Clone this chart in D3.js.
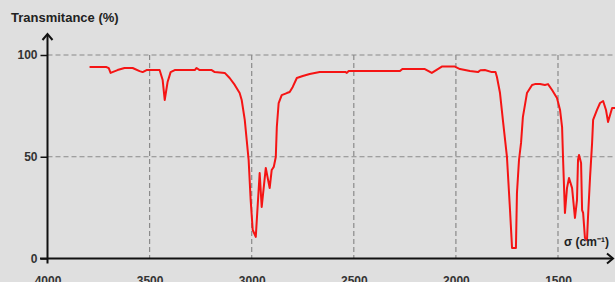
<!DOCTYPE html>
<html>
<head>
<meta charset="utf-8">
<script src="https://cdn.jsdelivr.net/npm/d3@7"></script>
<style>
  html, body { margin: 0; padding: 0; background: #dfdfdf; }
  svg { display: block; }
  text { font-family: "Liberation Sans", Arial, sans-serif; font-weight: bold; }
</style>
</head>
<body>
<svg id="chart" width="615" height="282"></svg>
<script>
// ---- data ----
const wavenumber = [3794,3711,3700,3691,3657,3623,3583,3549,3534,3515,3451,3436,3426,3412,3397,3377,3279,3270,3255,3196,3181,3132,3108,3083,3059,3049,3034,3015,3005,2995,2980,2961,2951,2931,2912,2902,2892,2882,2877,2868,2853,2828,2814,2799,2779,2750,2716,2667,2540,2534,2525,2274,2262,2176,2152,2118,2069,2005,1980,1931,1892,1880,1858,1824,1806,1799,1784,1770,1750,1735,1725,1706,1701,1691,1681,1672,1652,1627,1613,1588,1564,1549,1529,1505,1490,1480,1475,1466,1456,1446,1431,1417,1407,1402,1397,1387,1382,1377,1368,1358,1353,1343,1333,1328,1309,1294,1279,1265,1255,1235,1221];
const transmittance = [94.1,94.1,93.5,91.2,92.6,93.6,93.6,92.1,91.6,92.6,92.6,87.7,77.9,86.7,91.6,92.6,92.6,93.6,92.6,92.6,91.6,91.2,88.7,85.3,81.3,77.9,68.1,48.4,28.7,14,10.6,42,25.3,44.5,34.6,43.5,45,49.9,64.6,76.4,80.3,81.3,81.8,84.3,88.7,89.7,90.7,91.6,91.6,91.2,92.1,92.1,93.1,93.1,93.1,91.2,94.3,94.3,93.1,92.1,91.6,92.5,92.6,91.6,91.6,89.2,81.3,68.1,49.9,23.8,5.2,5.2,32.2,48.4,56.8,69.5,81.3,85.3,85.7,85.7,85.3,85.7,82.8,78.9,73,64.6,48.4,22.4,34.6,39.6,34.6,19.9,28.7,48.4,50.9,46.9,23.8,22.4,10.1,9.1,20.4,40,56.8,68.1,73,76.4,77.4,73,67.1,74,74];
const xTicks = [4000,3500,3000,2500,2000,1500];
const yTicks = [0,50,100];
const xGrid = [3500,3000,2500,2000,1500];
const yGrid = [50,100];
const yTitle = "Transmitance (%)";
const xTitle = "σ (cm⁻¹)";

// ---- chart ----
const W = 615, H = 282;
const svg = d3.select("#chart");
const x = d3.scaleLinear().domain([4000,1500]).range([47.5,558]);
const y = d3.scaleLinear().domain([0,100]).range([258.5,55]);

const ink = "#111";
const gridCol = "#8a8a8a";

// grid
svg.append("g").selectAll("line").data(yGrid).join("line")
  .attr("x1", x(4000)).attr("x2", W)
  .attr("y1", d => y(d)).attr("y2", d => y(d))
  .attr("stroke", gridCol).attr("stroke-width", 1.2).attr("stroke-dasharray", "5,3");
svg.append("g").selectAll("line").data(xGrid).join("line")
  .attr("x1", d => x(d)).attr("x2", d => x(d))
  .attr("y1", y(100)).attr("y2", y(0))
  .attr("stroke", gridCol).attr("stroke-width", 1.2).attr("stroke-dasharray", "5,3");

// spectrum
const pts = wavenumber.map((w,i) => [w, transmittance[i]]);
svg.append("path").datum(pts)
  .attr("fill", "none").attr("stroke", "#f51414").attr("stroke-width", 2)
  .attr("stroke-linejoin", "round")
  .attr("d", d3.line().x(d => x(d[0])).y(d => y(d[1])));

// y axis ticks/labels
const yAx = svg.append("g").attr("transform", `translate(${x(4000)},0)`)
  .call(d3.axisLeft(y).tickValues(yTicks).tickSize(7).tickPadding(3).tickFormat(d3.format("d")));
yAx.select(".domain").remove();
yAx.selectAll(".tick line").attr("stroke", ink).attr("stroke-width", 1.5);
yAx.selectAll(".tick text").attr("fill", "#333").style("font-size", "12px")
  .style("font-family", "'Liberation Sans', Arial, sans-serif").style("font-weight", "bold");

// x axis labels
const xAx = svg.append("g").attr("transform", `translate(0,${y(0)})`)
  .call(d3.axisBottom(x).tickValues(xTicks).tickSize(0).tickPadding(18).tickFormat(d3.format("d")));
xAx.select(".domain").remove();
xAx.selectAll(".tick text").attr("fill", "#333").style("font-size", "12px")
  .style("font-family", "'Liberation Sans', Arial, sans-serif").style("font-weight", "bold");

// axis lines with arrows
svg.append("line").attr("x1", x(4000)).attr("x2", x(4000)).attr("y1", y(0) + 5).attr("y2", 34)
  .attr("stroke", ink).attr("stroke-width", 2);
svg.append("path").attr("d", `M${x(4000)-5},${40} L${x(4000)},${34} L${x(4000)+5},${40}`)
  .attr("fill", "none").attr("stroke", ink).attr("stroke-width", 2);
svg.append("line").attr("x1", 40).attr("x2", 613).attr("y1", y(0)).attr("y2", y(0))
  .attr("stroke", ink).attr("stroke-width", 2);
svg.append("path").attr("d", `M607,${y(0)-5} L613,${y(0)} L607,${y(0)+5}`)
  .attr("fill", "none").attr("stroke", ink).attr("stroke-width", 2);

// titles
svg.append("text").attr("x", 11).attr("y", 22).attr("fill", "#222")
  .style("font-size", "13px").text(yTitle);
svg.append("text").attr("x", 564).attr("y", 246).attr("fill", "#222")
  .style("font-size", "12px").text(xTitle);
</script>
</body>
</html>
